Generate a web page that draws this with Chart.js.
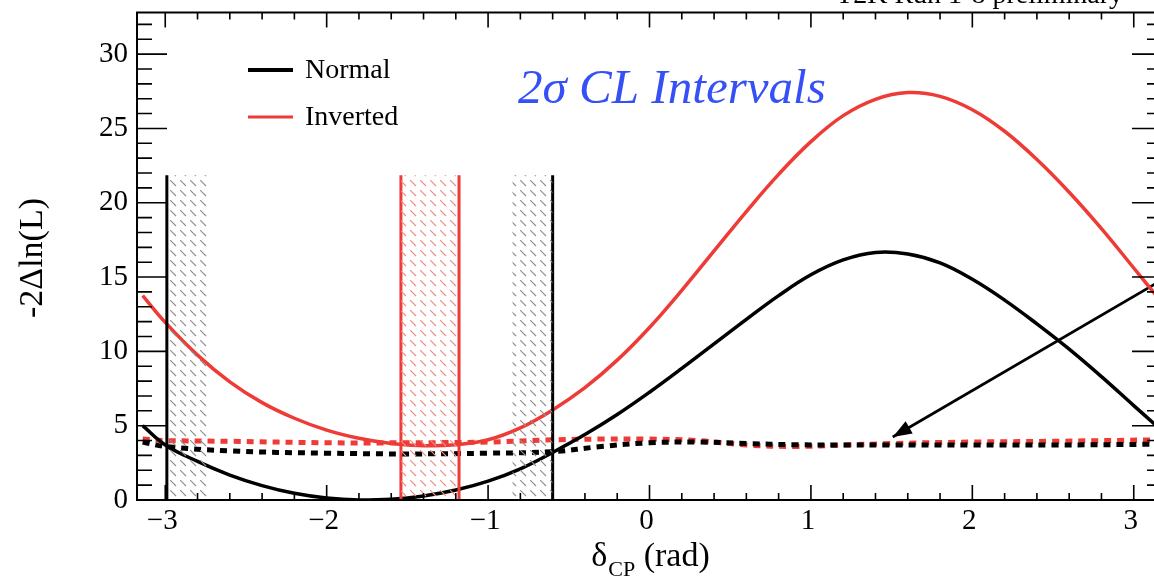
<!DOCTYPE html>
<html><head><meta charset="utf-8">
<script src="https://cdn.jsdelivr.net/npm/chart.js@4.4.0/dist/chart.umd.min.js"></script>
<style>html,body{margin:0;padding:0;background:#fff;overflow:hidden;width:1154px;height:579px}canvas{display:block}</style>
</head><body><canvas id="c" width="1170" height="579"></canvas>
<script>
// ---- data ----
const deltaGrid = [-3.14,-3.0,-2.8,-2.6,-2.4,-2.2,-2.0,-1.8,-1.6,-1.4,-1.2,-1.0,-0.8,-0.6,-0.4,-0.2,0,0.2,0.4,0.6,0.8,1.0,1.2,1.4,1.6,1.8,2.0,2.2,2.4,2.6,2.8,3.0,3.14];
const normalChi2 = [5.0,3.7,2.6,1.68,0.97,0.45,0.13,0.0,0.05,0.27,0.67,1.27,2.1,3.2,4.4,5.75,7.25,8.85,10.5,12.15,13.75,15.15,16.15,16.65,16.55,15.95,14.85,13.45,11.85,10.15,8.3,6.35,5.0];
const invertedChi2 = [13.75,11.95,9.75,7.95,6.55,5.5,4.7,4.15,3.8,3.65,3.72,4.05,4.85,6.06,7.56,9.41,11.61,14.11,16.76,19.41,21.91,24.11,25.86,26.96,27.41,27.16,26.26,24.81,22.91,20.71,18.26,15.61,13.75];
const critGrid = [-3.14,-3.0,-2.6,-2.0,-1.5,-1.0,-0.6,-0.3,0,0.3,0.6,0.9,1.2,1.5,2.0,2.5,3.14];
const normalCrit = [3.9,3.6,3.3,3.15,3.1,3.15,3.25,3.6,3.85,3.9,3.8,3.72,3.7,3.7,3.7,3.7,3.75];
const invertedCrit = [4.1,4.0,3.95,3.85,3.85,3.9,4.05,4.1,4.1,4.0,3.7,3.6,3.7,3.8,3.9,3.95,4.05];
const normalBounds = [-2.99, -0.60];
const normalHatch = [[-2.99, -2.73], [-0.85, -0.60]];
const invertedBounds = [-1.54, -1.18];
const boundTop = 21.85;
const xMajorTicks = [-3, -2, -1, 0, 1, 2, 3];
const xTickLabels = ['\u22123', '\u22122', '\u22121', '0', '1', '2', '3'];
const yMajorTicks = [0, 5, 10, 15, 20, 25, 30];
const yTickLabels = ['0', '5', '10', '15', '20', '25', '30'];
const arrowFrom = [3.175, 14.8];
const arrowTo = [1.507, 4.24];
const seriesNames = ['Normal', 'Inverted'];

// ---- helpers ----
const ctxMain = document.getElementById('c').getContext('2d');
function hatch(color) {
  const c = document.createElement('canvas'); c.width = 10; c.height = 10;
  const g = c.getContext('2d');
  g.strokeStyle = color; g.lineWidth = 1.1;
  g.beginPath(); g.moveTo(0, 0); g.lineTo(6, 6); g.stroke();
  return ctxMain.createPattern(c, 'repeat');
}
const pts = (xs, ys) => xs.map((x, i) => ({x: x, y: ys[i]}));
const vline = (x, color, w) => ({data: [{x: x, y: 0}, {x: x, y: boundTop}], borderColor: color, borderWidth: w, pointRadius: 0, fill: false, tension: 0});
const band = (a, b, pat) => ({data: [{x: a, y: boundTop}, {x: b, y: boundTop}], borderWidth: 0, borderColor: 'rgba(0,0,0,0)', backgroundColor: pat, fill: 'origin', pointRadius: 0, tension: 0});

const greyHatch = hatch('#8f8f8f');
const redHatch = hatch('#f08a85');
const BLACK = '#000000', RED = '#ee3b36';

const datasets = [
  band(normalHatch[0][0], normalHatch[0][1], greyHatch),
  band(normalHatch[1][0], normalHatch[1][1], greyHatch),
  band(invertedBounds[0], invertedBounds[1], redHatch),
  vline(normalBounds[0], BLACK, 3),
  vline(normalBounds[1], BLACK, 3),
  vline(invertedBounds[0], RED, 3),
  vline(invertedBounds[1], RED, 3),
  {label: seriesNames[0], data: pts(deltaGrid, normalChi2), borderColor: BLACK, borderWidth: 3.5, pointRadius: 0, tension: 0.4, fill: false},
  {label: seriesNames[1], data: pts(deltaGrid, invertedChi2), borderColor: RED, borderWidth: 3.5, pointRadius: 0, tension: 0.4, fill: false},
  {data: pts(critGrid, normalCrit), borderColor: BLACK, borderWidth: 5, borderDash: [7, 6], borderCapStyle: 'butt', pointRadius: 0, tension: 0.35, fill: false},
  {data: pts(critGrid, invertedCrit), borderColor: RED, borderWidth: 5, borderDash: [7, 6], borderCapStyle: 'butt', pointRadius: 0, tension: 0.35, fill: false},
  {data: [{x: arrowFrom[0], y: arrowFrom[1]}, {x: arrowTo[0], y: arrowTo[1]}], borderColor: BLACK, borderWidth: 2.7, pointRadius: 0, tension: 0, fill: false}
];
const ARROW_IDX = datasets.length - 1;
const NORMAL_IDX = 7, INVERTED_IDX = 8;

const SERIF = '"Liberation Serif", "Times New Roman", serif';

const decor = {
  id: 'decor',
  afterDraw(chart) {
    const ctx = chart.ctx, a = chart.chartArea, xs = chart.scales.x, ys = chart.scales.y;
    ctx.save();
    // arrowhead
    const am = chart.getDatasetMeta(ARROW_IDX).data;
    const p0 = am[0], p1 = am[1];
    const ang = Math.atan2(p1.y - p0.y, p1.x - p0.x);
    const L = 19, Wd = 7;
    ctx.fillStyle = BLACK;
    ctx.beginPath();
    ctx.moveTo(p1.x, p1.y);
    ctx.lineTo(p1.x - L * Math.cos(ang) + Wd * Math.sin(ang), p1.y - L * Math.sin(ang) - Wd * Math.cos(ang));
    ctx.lineTo(p1.x - L * Math.cos(ang) - Wd * Math.sin(ang), p1.y - L * Math.sin(ang) + Wd * Math.cos(ang));
    ctx.closePath(); ctx.fill();

    // frame
    ctx.strokeStyle = '#000'; ctx.lineWidth = 2;
    ctx.strokeRect(a.left, a.top, a.right - a.left, a.bottom - a.top);
    // x ticks
    ctx.lineWidth = 1.6;
    for (let k = -16; k <= 16; k++) {
      const v = k * 0.2;
      if (v < xs.min || v > xs.max) continue;
      const major = Math.abs(v - Math.round(v)) < 1e-6;
      const len = major ? 15 : 7;
      const px = xs.getPixelForValue(v);
      ctx.beginPath();
      ctx.moveTo(px, a.bottom); ctx.lineTo(px, a.bottom - len);
      ctx.moveTo(px, a.top); ctx.lineTo(px, a.top + len);
      ctx.stroke();
    }
    // y ticks
    for (let v = 0; v <= ys.max; v += 1) {
      const major = v % 5 === 0;
      const len = major ? 30 : 15;
      const py = ys.getPixelForValue(v);
      ctx.beginPath();
      ctx.moveTo(a.left, py); ctx.lineTo(a.left + len, py);
      ctx.moveTo(a.right, py); ctx.lineTo(a.right - len, py);
      ctx.stroke();
    }
    // tick labels
    ctx.fillStyle = '#000';
    ctx.font = '29px ' + SERIF;
    ctx.textAlign = 'right'; ctx.textBaseline = 'middle';
    yMajorTicks.forEach((v, i) => ctx.fillText(yTickLabels[i], a.left - 9, ys.getPixelForValue(v)));
    ctx.textAlign = 'center'; ctx.textBaseline = 'top';
    xMajorTicks.forEach((v, i) => ctx.fillText(xTickLabels[i], xs.getPixelForValue(v) - 3, a.bottom + 7));

    // x title
    ctx.textBaseline = 'alphabetic'; ctx.textAlign = 'left';
    const t1 = '\u03b4', t3 = ' (rad)';
    ctx.font = '22px ' + SERIF; const wSub = ctx.measureText('CP').width;
    ctx.font = '34px ' + SERIF;
    const w1 = ctx.measureText(t1).width, w3 = ctx.measureText(t3).width;
    let x0 = 650 - (w1 + wSub + w3) / 2;
    ctx.fillText(t1, x0, 566);
    ctx.font = '22px ' + SERIF; ctx.fillText('CP', x0 + w1 + 1, 576);
    ctx.font = '34px ' + SERIF; ctx.fillText(t3, x0 + w1 + wSub + 1, 566);

    // y title
    ctx.save();
    ctx.translate(33, 258); ctx.rotate(-Math.PI / 2);
    ctx.textAlign = 'center'; ctx.textBaseline = 'middle';
    ctx.font = '34px ' + SERIF;
    ctx.fillText('-2\u0394ln(L)', 0, 0);
    ctx.restore();

    // legend
    const legendRows = [[NORMAL_IDX, 70, 4], [INVERTED_IDX, 117, 3]];
    legendRows.forEach(([idx, y, w]) => {
      const ds = chart.data.datasets[idx];
      ctx.strokeStyle = ds.borderColor; ctx.lineWidth = w;
      ctx.beginPath(); ctx.moveTo(248, y); ctx.lineTo(293, y); ctx.stroke();
      ctx.fillStyle = '#000'; ctx.font = '28px ' + SERIF;
      ctx.textAlign = 'left'; ctx.textBaseline = 'middle';
      ctx.fillText(ds.label, 305, y + 1);
    });

    // annotation
    const ann = '2\u03c3 CL Intervals';
    ctx.font = 'italic 40px ' + SERIF;
    const aw = ctx.measureText(ann).width;
    const fs = 40 * 308 / aw;
    ctx.font = 'italic ' + fs.toFixed(1) + 'px ' + SERIF;
    ctx.fillStyle = '#3550f5'; ctx.textAlign = 'left'; ctx.textBaseline = 'alphabetic';
    ctx.fillText(ann, 518, 103);

    // top label (mostly cut off)
    ctx.font = '28px ' + SERIF; ctx.fillStyle = '#000'; ctx.textAlign = 'right';
    ctx.fillText('T2K Run 1-8 preliminary', 1123, 3);
    ctx.restore();
  }
};

new Chart(ctxMain, {
  type: 'line',
  data: {datasets: datasets},
  options: {
    responsive: false, animation: false,
    layout: {padding: {left: 137, right: 8, top: 12.5, bottom: 79}},
    scales: {
      x: {type: 'linear', min: -3.175, max: 3.175, display: false},
      y: {type: 'linear', min: 0, max: 32.8, display: false}
    },
    plugins: {legend: {display: false}, tooltip: {enabled: false}},
    elements: {point: {radius: 0}}
  },
  plugins: [decor]
});
</script>
</body></html>
